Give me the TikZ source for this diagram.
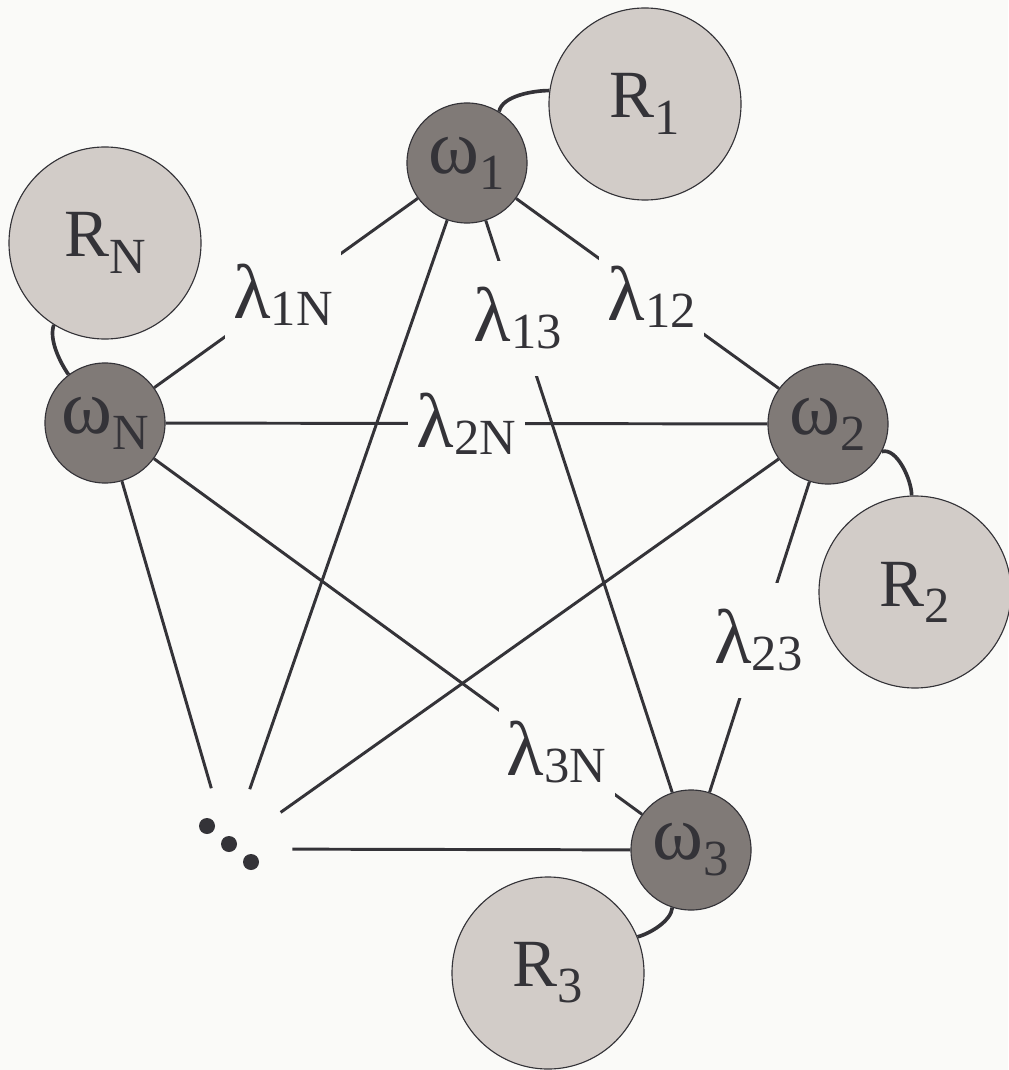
\documentclass[tikz,border=0pt]{standalone}
\usepackage{fontspec}
\setmainfont{Liberation Serif}
\definecolor{paper}{RGB}{250,250,248}
\definecolor{ink}{RGB}{52,51,56}
\definecolor{freqfill}{RGB}{128,122,119}
\definecolor{resfill}{RGB}{210,204,200}
\newcommand{\sbx}[2][0.24em]{\raisebox{-#1}{\fontsize{36}{40}\selectfont #2}}
\newcommand{\gk}[1]{{\fontsize{55}{60}\selectfont #1}}

\begin{document}
\begin{tikzpicture}[x=0.025cm,y=-0.025cm,
  every node/.style={font=\fontsize{48}{56}\selectfont,text=ink},
  freq/.style={circle,draw=ink,line width=0.8pt,fill=freqfill,minimum size=3cm,inner sep=0pt},
  res/.style={circle,draw=ink,line width=0.8pt,fill=resfill,minimum size=4.8cm,inner sep=0pt},
  coup/.style={draw=ink,line width=2.1pt},
  hook/.style={draw=ink,line width=2.6pt,looseness=0.75},
  lam/.style={fill=paper,inner xsep=6pt,inner ysep=19pt}]
\fill[paper] (0,0) rectangle (1008,1070);
\useasboundingbox (0,0) rectangle (1008,1070);

% oscillators and their reservoirs
\node[freq] (w1) at (467,163) {\gk{ω}\sbx{1}};
\node[freq] (w2) at (828,424) {\gk{ω}\sbx{2}};
\node[freq] (w3) at (691,850) {\gk{ω}\sbx{3}};
\node[freq] (wN) at (105,423) {\gk{ω}\sbx{N}};
\node[res] (r1) at (645,104) {R\sbx{1}};
\node[res] (r2) at (915,592) {R\sbx{2}};
\node[res] (r3) at (548,973) {R\sbx{3}};
\node[res] (rN) at (105,243) {R\sbx{N}};
\node[circle,minimum size=3.15cm,inner sep=0pt] (dots) at (229,849) {};
\foreach \d in {-1,0,1}
  \fill[ink] ([shift={(22*\d,18*\d-5)}]dots.center) circle (0.2cm);

\draw[hook] (w1.58) to[out=80,in=180] (r1.172);
\draw[hook] (w2.-27) to[out=15,in=90] (r2.92);
\draw[hook] (w3.252) to[out=265,in=15] (r3.22);
\draw[hook] (rN.238) to[out=250,in=125] (wN.127);

% couplings
\draw[coup] (w1) -- node[lam,pos=0.511] {\gk{λ}\sbx[0.1em]{1N}} (wN);
\draw[coup] (w1) -- node[lam,pos=0.517] {\gk{λ}\sbx[0.1em]{12}} (w2);
\draw[coup] (w1) -- node[lam,pos=0.171] {\gk{λ}\sbx[0.1em]{13}} (w3);
\draw[coup] (wN) -- node[lam,pos=0.5] {\gk{λ}\sbx[0.1em]{2N}} (w2);
\draw[coup] (wN) -- node[lam,pos=0.825] {\gk{λ}\sbx[0.1em]{3N}} (w3);
\draw[coup] (w2) -- node[lam,pos=0.51] {\gk{λ}\sbx[0.1em]{23}} (w3);
\draw[coup] (wN) -- (dots);
\draw[coup] (w1) -- (dots);
\draw[coup] (w2) -- (dots);
\draw[coup] (dots) -- (w3);
\end{tikzpicture}
\end{document}
